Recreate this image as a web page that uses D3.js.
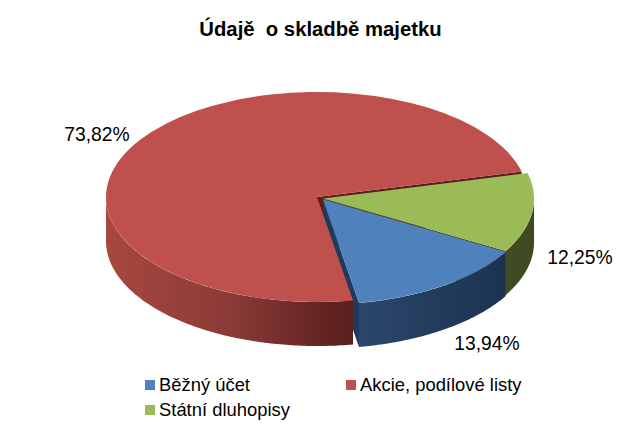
<!DOCTYPE html>
<html>
<head>
<meta charset="utf-8">
<script src="https://cdn.jsdelivr.net/npm/d3@7"></script>
<style>
  html, body { margin: 0; padding: 0; background: #fff; }
  text { font-family: "Liberation Sans", Arial, sans-serif; fill: #000; }
</style>
</head>
<body>
<div id="my_dataviz"></div>
<script>
const categories = ["Běžný účet", "Akcie, podílové listy", "Státní dluhopisy"];
const values = [13.94, 73.82, 12.25];
const valueLabels = ["13,94%", "73,82%", "12,25%"];

const topColors = ["#4f81bd", "#c0504d", "#9bbb59"];
const faceColors = ["#1f3a5c", "#5a1d1c", "#3f4b22"];
const wallStops = [
  [["0%", "#2b476b"], ["100%", "#1c3250"]],
  [["0%", "#a8473f"], ["50%", "#8b3b37"], ["100%", "#581e1d"]],
  [["0%", "#404c22"], ["100%", "#3d4820"]]
];
// slice centres: red is pulled a little away from the other two
const centres = [[323, 199.5], [317, 197], [323, 198.5]];
const labelPos = [[487, 350], [97, 141], [580, 264]];

const WIDTH = 641, HEIGHT = 443;
const RX = 211, RY = 105, DEPTH = 44;

const svg = d3.select("#my_dataviz").append("svg")
  .attr("width", WIDTH)
  .attr("height", HEIGHT)
  .style("display", "block");

const defs = svg.append("defs");

svg.append("text")
  .attr("x", 320.5).attr("y", 36)
  .attr("text-anchor", "middle")
  .style("font-size", "20.3px")
  .style("font-weight", "bold")
  .style("white-space", "pre")
  .text("Údajě  o skladbě majetku");

const rad = d3.scaleLinear().domain([0, 360]).range([0, 2 * Math.PI]);
const pie = d3.pie().sort(null).value(d => d)
  .startAngle(rad(120)).endAngle(rad(480));
const arcs = pie(values);

const arc = d3.arc().innerRadius(0).outerRadius(RX);
const area = d3.area().x(d => d.x).y0(d => d.y).y1(d => d.y + DEPTH);

const px = (c, a) => c[0] + RX * Math.sin(a);
const py = (c, a) => c[1] - RY * Math.cos(a);

// cut face under the closing edge of the slice
function drawFace(i) {
  const a = arcs[i], c = centres[i];
  const ex = px(c, a.endAngle), ey = py(c, a.endAngle);
  svg.append("path")
    .attr("d", `M${c[0]},${c[1]} L${ex},${ey} V${ey + DEPTH} L${c[0]},${c[1] + DEPTH} Z`)
    .attr("fill", faceColors[i]);
}

// outer rim, only the part turned to the viewer, then the top
function drawBody(i) {
  const a = arcs[i], c = centres[i];
  // the pie starts at 120 degrees, so the last slice runs past a full turn
  const turn = a.startAngle >= rad(360) ? rad(360) : 0;
  const from = Math.max(a.startAngle - turn, rad(90));
  const to = Math.min(a.endAngle - turn, rad(270));
  if (to > from) {
    const pts = d3.range(0, 121).map(k => {
      const t = from + (to - from) * k / 120;
      return { x: px(c, t), y: py(c, t) };
    });
    const xs = d3.extent(pts, d => d.x);
    const grad = defs.append("linearGradient")
      .attr("id", "wall" + i)
      .attr("gradientUnits", "userSpaceOnUse")
      .attr("x1", xs[0]).attr("x2", xs[1])
      .attr("y1", 0).attr("y2", 0);
    wallStops[i].forEach(s => grad.append("stop").attr("offset", s[0]).attr("stop-color", s[1]));
    svg.append("path").attr("d", area(pts)).attr("fill", `url(#wall${i})`);
  }
  svg.append("path")
    .attr("d", arc(a))
    .attr("transform", `translate(${c[0]},${c[1]}) scale(1,${RY / RX})`)
    .attr("fill", topColors[i]);
}

// cut faces go first so the tops cover all but the gaps between slices
drawFace(1);
drawFace(2);
drawFace(0);
drawBody(1);
drawBody(2);
drawBody(0);

svg.selectAll(".val").data(valueLabels).join("text")
  .attr("class", "val")
  .attr("x", (d, i) => labelPos[i][0])
  .attr("y", (d, i) => labelPos[i][1])
  .attr("text-anchor", "middle")
  .style("font-size", "19.3px")
  .text(d => d);

const legendPos = [[145, 380], [346, 380], [145, 405]];
const legend = svg.selectAll(".leg").data(categories).join("g")
  .attr("class", "leg")
  .attr("transform", (d, i) => `translate(${legendPos[i][0]},${legendPos[i][1]})`);
legend.append("rect")
  .attr("width", 10).attr("height", 10)
  .attr("fill", (d, i) => topColors[i]);
legend.append("text")
  .attr("x", 14).attr("y", 11)
  .style("font-size", "18.4px")
  .text(d => d);
</script>
</body>
</html>
